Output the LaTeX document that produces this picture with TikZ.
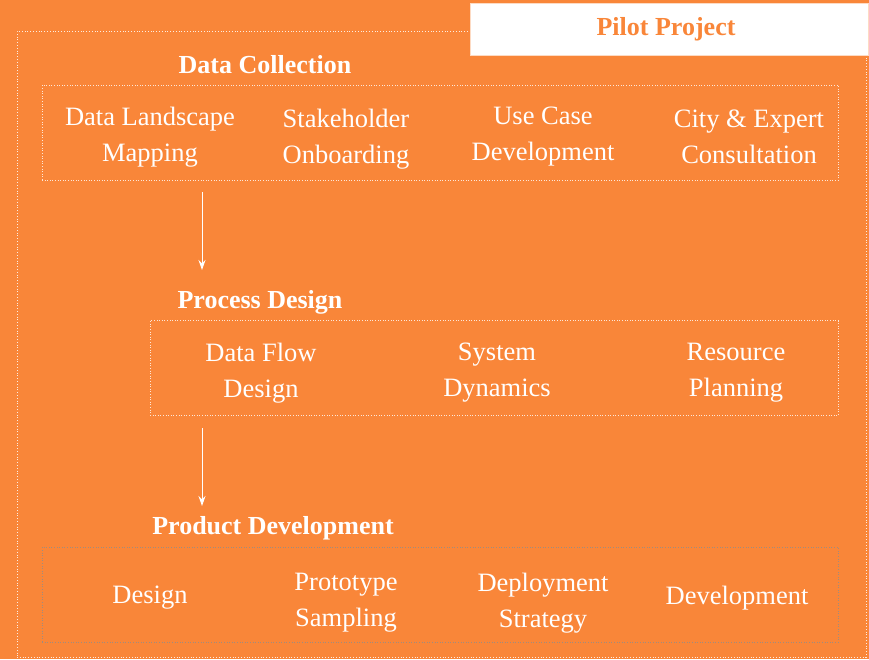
\documentclass[tikz,border=0pt]{standalone}
\usepackage{fontspec}
\setmainfont{Liberation Serif}
\usetikzlibrary{arrows.meta}
\definecolor{pilotorange}{RGB}{249,134,57}
\definecolor{boxgrey}{RGB}{160,140,125}

\begin{document}
\begin{tikzpicture}[x=1pt, y=-1pt,
     every node/.style={text=white, align=center, font=\fontsize{26.5}{36}\selectfont},
     heading/.style={font=\fontsize{26}{30}\selectfont\bfseries},
     groupbox/.style={draw=white!80!pilotorange, dotted, line width=0.6pt, minimum width=796pt, minimum height=95pt, inner sep=0pt},
     flow/.style={draw=white, line width=1pt, -{Stealth[length=10pt,width=7pt]}}]

   \useasboundingbox[fill=pilotorange] (0,0) rectangle (869,659);

   % frame and title
   \node[draw=white!85!pilotorange, dotted, line width=0.8pt, minimum width=849pt, minimum height=626pt, inner sep=0pt] (frame) at (441.5,344) {};
   \node[fill=white, draw=white!70!pilotorange, minimum width=398pt, minimum height=52pt, inner sep=0pt, text=pilotorange, font=\fontsize{26}{30}\selectfont\bfseries] (pilot) at (669,29) {Pilot Project\hspace{6pt}};

   % data collection
   \node[heading] (dc) at (265,65) {Data Collection};
   \node[groupbox] (dcbox) at (440,132.5) {};
   \node (dcmap) at (150,137) {Data Landscape\\Mapping};
   \node (dcstake) at (346,139) {Stakeholder\\Onboarding};
   \node (dcuse) at (543,137) {Use Case\\Development};
   \node (dccity) at (749,137) {City \& Expert\\Consultation};

   % process design
   \node[heading] (pd) at (260,302) {Process Design};
   \node[groupbox, minimum width=688pt] (pdbox) at (494,368) {};
   \node (pdflow) at (261,373) {Data Flow\\Design};
   \node (pdsys) at (497,373) {System\\Dynamics};
   \node (pdres) at (736,373) {Resource\\Planning};

   % product development
   \node[heading] (dev) at (273,528) {Product Development};
   \node[groupbox, draw=boxgrey] (devbox) at (440,594.5) {};
   \node (devdesign) at (150,598) {Design};
   \node (devproto) at (346,603) {Prototype\\Sampling};
   \node (devdeploy) at (543,603) {Deployment\\Strategy};
   \node (devdev) at (737,598) {Development};

   \coordinate (a1) at (202,192);
   \coordinate (a2) at (202,270);
   \coordinate (b1) at (202,428);
   \coordinate (b2) at (202,506);
   \draw[flow] (a1) -- (a2);
   \draw[flow] (b1) -- (b2);
\end{tikzpicture}
\end{document}
